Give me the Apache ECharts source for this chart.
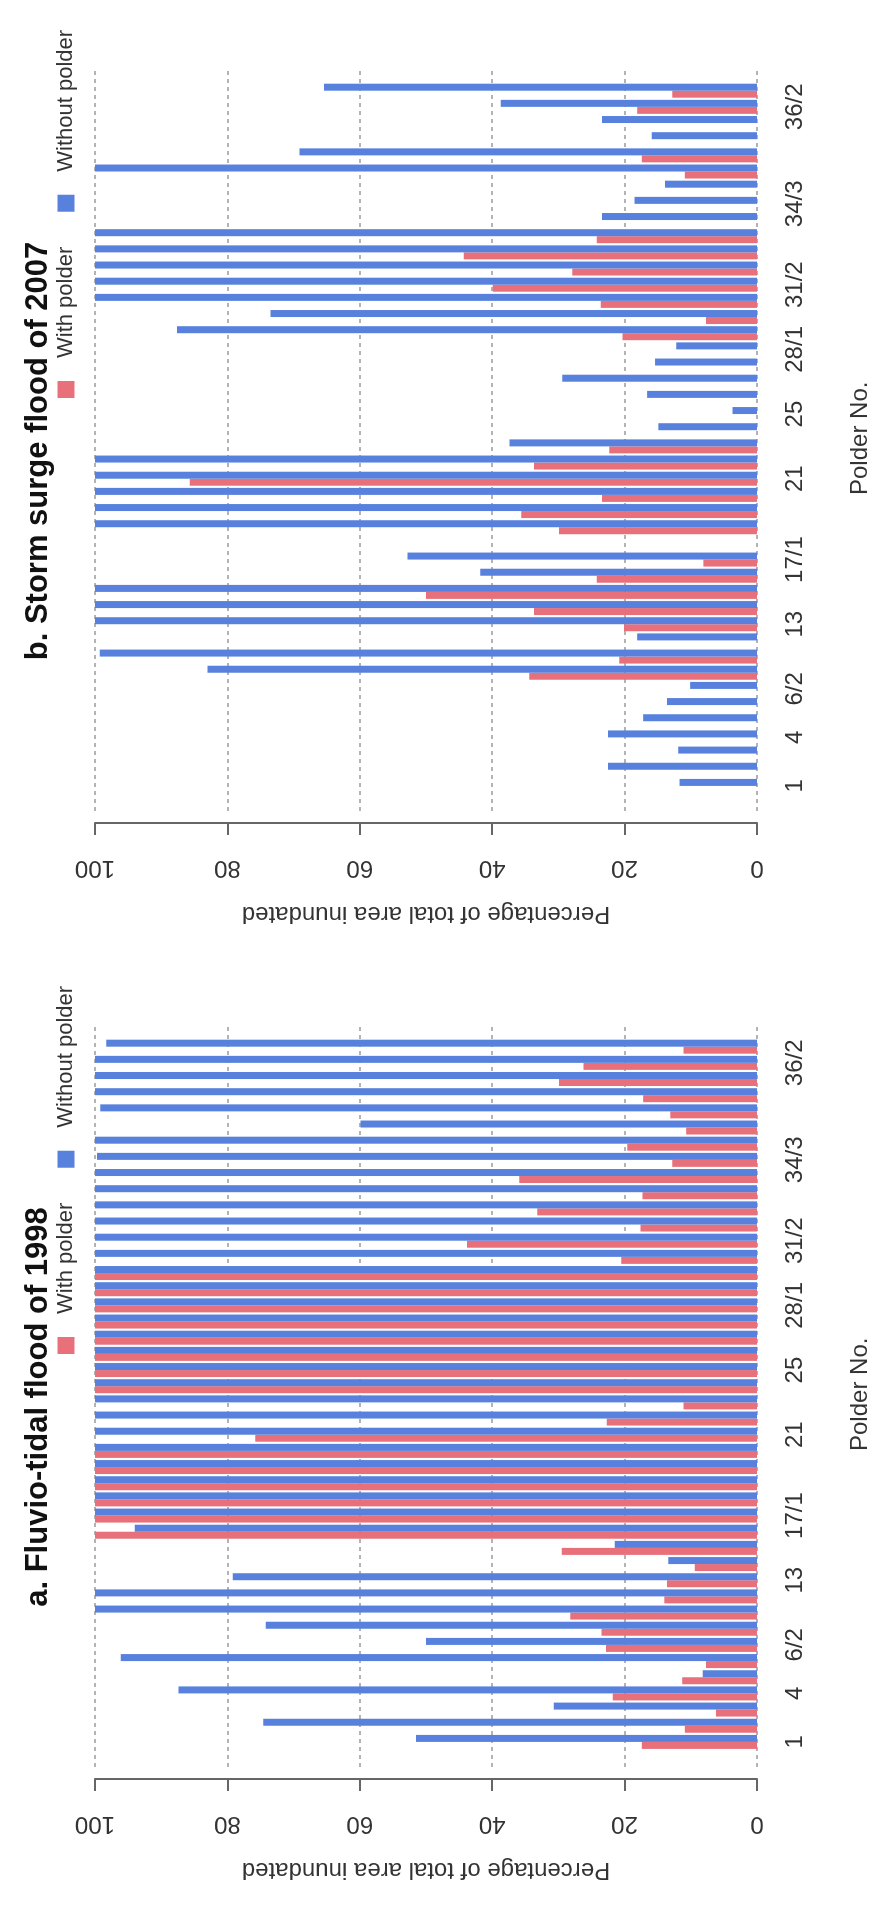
<!DOCTYPE html>
<html><head><meta charset="utf-8">
<script src="https://cdn.jsdelivr.net/npm/echarts@6/dist/echarts.min.js"></script>
<style>
html,body{margin:0;padding:0;background:#fff;}
#wrap{position:relative;width:885px;height:1912px;overflow:hidden;background:#fff;}
#main{position:absolute;left:0;top:0;width:1912px;height:885px;transform-origin:0 0;transform:translateY(1912px) rotate(-90deg);}
</style></head><body>
<div id="wrap"><div id="main"></div></div>
<script>
// Polder categories (left to right in the unrotated chart)
const polders = ['1','2','3','4','5','6/1','6/2','7/1','7/2','10-12','13','14/1','14/2','16','17/1','17/2','18','19','20','21','22','23','24','25','26','27/1','27/2','28/1','28/2','29','31/1','31/2','32','33','34/1','34/2','34/3','35/1','35/2','35/3','35/4','36/1','36/2','37'];
const shownLabels = ['1','4','6/2','13','17/1','21','25','28/1','31/2','34/3','36/2'];
const valueTicks = [0, 20, 40, 60, 80, 100];
const seriesNames = ['With polder', 'Without polder'];

// a. Fluvio-tidal flood of 1998
const flood1998With = [17.4,10.9,6.2,21.8,11.3,7.7,22.8,23.5,28.2,14.0,13.6,9.4,29.5,100,100,100,100,100,100,75.8,22.7,11.1,100,100,100,100,100,100,100,100,20.5,43.8,17.6,33.2,17.3,35.9,12.8,19.6,10.7,13.1,17.2,29.9,26.2,11.1];
const flood1998Without = [51.5,74.6,30.7,87.4,8.2,96.1,50.0,74.2,100,100,79.2,13.4,21.5,94.0,100,100,100,100,100,100,100,100,100,100,100,100,100,100,100,100,100,100,100,100,100,100,99.7,100,59.9,99.2,100,100,100,98.3];

// b. Storm surge flood of 2007
const flood2007With = [0,0,0,0,0,0,0,34.4,20.8,0,20.1,33.7,50,24.2,8.1,0,29.9,35.6,23.4,85.7,33.7,22.3,0,0,0,0,0,0,20.3,7.7,23.6,39.9,27.9,44.3,24.2,0,0,0,10.9,17.4,0,0,18.1,12.8];
const flood2007Without = [11.7,22.5,11.9,22.5,17.2,13.6,10.1,83,99.3,18.1,100,100,100,41.8,52.8,0,100,100,100,100,100,37.4,14.9,3.7,16.6,29.4,15.4,12.2,87.6,73.5,100,100,100,100,100,23.4,18.5,13.9,100,69.1,15.9,23.4,38.7,65.4];

const panelTitles = ['a. Fluvio-tidal flood of 1998', 'b. Storm surge flood of 2007'];
const xAxisTitle = 'Polder No.';
const yAxisTitle = 'Percentage of total area inundated';

const RED = '#E8707A', BLUE = '#5781DC';
const FONT = 'Liberation Sans, Arial, Helvetica, sans-serif';
const panelData = [[flood1998With, flood1998Without], [flood2007With, flood2007Without]];

const chart = echarts.init(document.getElementById('main'), null, {renderer: 'canvas'});
const grid = [], xAxis = [], yAxis = [], series = [], title = [], legend = [];
panelData.forEach((pd, i) => {
  const off = i * 956;
  const gMain = grid.length;
  grid.push({left: off + 162, top: 95, width: 711.4, height: 662, outerBoundsMode: 'none', containLabel: false});
  const gLines = grid.length;
  grid.push({left: off + 145, top: 95, width: 744, height: 662, outerBoundsMode: 'none', containLabel: false});

  xAxis.push({
    type: 'category', gridIndex: gMain, data: polders, position: 'bottom',
    axisLine: {show: false}, axisTick: {show: false},
    axisLabel: {interval: (idx, val) => shownLabels.includes(val), fontSize: 24, margin: 26, color: '#333', fontFamily: FONT},
    name: xAxisTitle, nameLocation: 'middle', nameGap: 91,
    nameTextStyle: {fontSize: 24, color: '#333', fontFamily: FONT}
  });
  yAxis.push({
    type: 'value', gridIndex: gMain, min: valueTicks[0], max: valueTicks[valueTicks.length - 1],
    interval: valueTicks[1] - valueTicks[0], position: 'left', offset: 29,
    axisLine: {show: true, lineStyle: {color: '#666', width: 2}},
    axisTick: {show: true, length: 12, lineStyle: {color: '#666', width: 2}},
    axisLabel: {rotate: 90, margin: 33, fontSize: 24, color: '#333', fontFamily: FONT},
    splitLine: {show: false},
    name: yAxisTitle, nameLocation: 'middle', nameGap: 79, nameRotate: 90,
    nameTextStyle: {fontSize: 24, color: '#333', fontFamily: FONT}
  });
  xAxis.push({type: 'value', gridIndex: gLines, show: false});
  yAxis.push({
    type: 'value', gridIndex: gLines, min: valueTicks[0], max: valueTicks[valueTicks.length - 1],
    interval: valueTicks[1] - valueTicks[0],
    axisLine: {show: false}, axisTick: {show: false}, axisLabel: {show: false},
    splitLine: {show: true, lineStyle: {color: '#9a9a9a', type: [4, 4], width: 1.5}}
  });

  pd.forEach((vals, s) => {
    series.push({
      type: 'bar', name: seriesNames[s], xAxisIndex: xAxis.length - 2, yAxisIndex: yAxis.length - 2,
      data: vals, barWidth: 7, barGap: '0%', silent: true,
      itemStyle: {color: s === 0 ? RED : BLUE}
    });
  });

  title.push({
    text: panelTitles[i], left: off + 500, top: 18, textAlign: 'center',
    textStyle: {fontSize: 31, fontWeight: 'bold', color: '#111', fontFamily: FONT}
  });
  legend.push({
    left: off + 553, top: 50, orient: 'horizontal', icon: 'rect',
    itemWidth: 17, itemHeight: 17, itemGap: 35, selectedMode: false,
    data: seriesNames,
    textStyle: {fontSize: 22, color: '#333', fontFamily: FONT, padding: [0, 0, 0, 18]}
  });
});

chart.setOption({
  animation: false,
  backgroundColor: '#fff',
  textStyle: {fontFamily: FONT},
  title, legend, grid, xAxis, yAxis, series
});
</script>
</body></html>
